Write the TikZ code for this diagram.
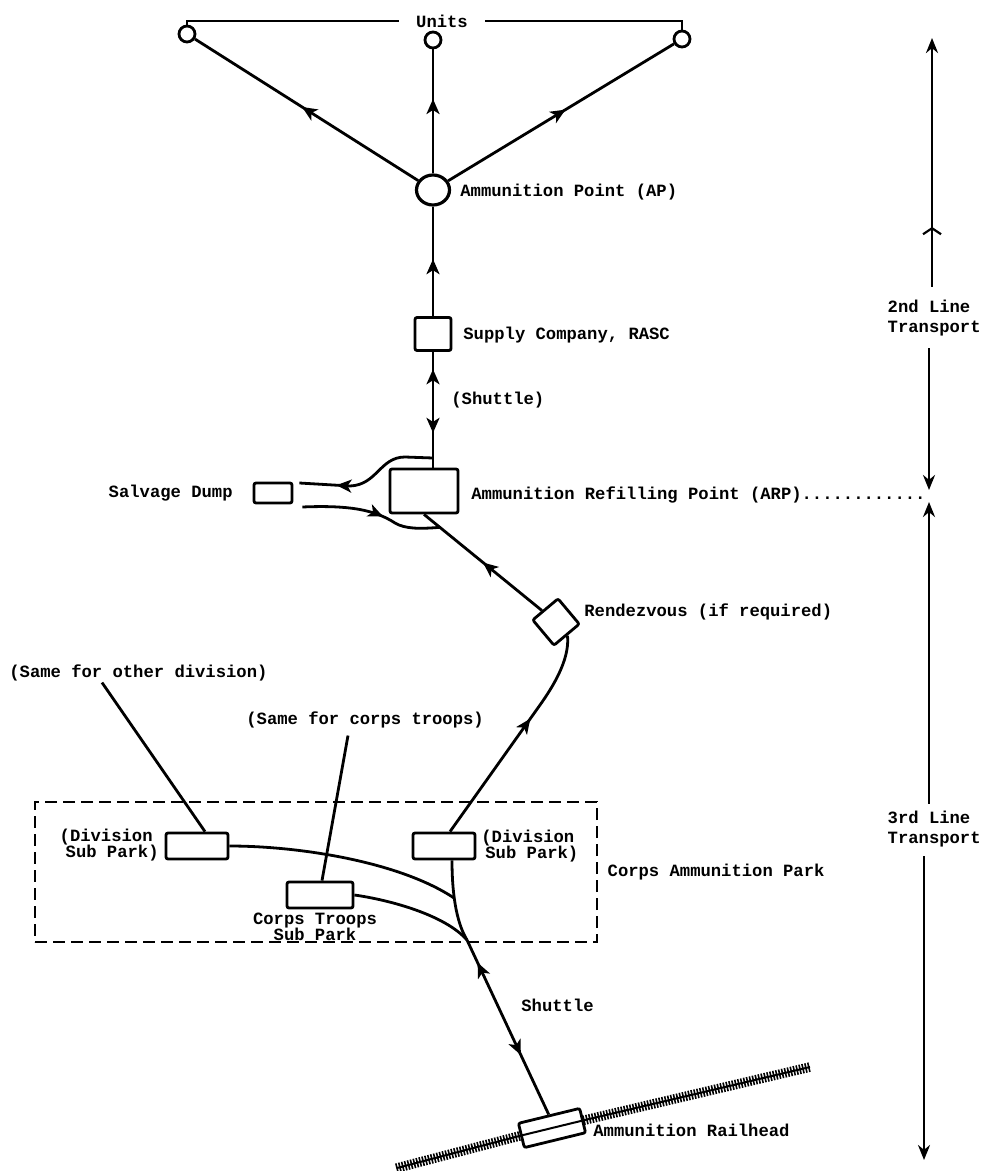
\documentclass[tikz,border=0pt]{standalone}
\usepackage{fontspec}
\newfontfamily\tw{Liberation Mono}
\usetikzlibrary{arrows.meta,decorations.markings,decorations.pathreplacing,calc,shapes.geometric}
\tikzset{
  lbl/.style={font=\tw\bfseries\fontsize{8.6}{8.2}\selectfont, inner sep=0pt},
  lbltwo/.style={font=\tw\bfseries\fontsize{8.6}{10}\selectfont, inner sep=0pt, align=left},
  box/.style={draw, rectangle, rounded corners=1pt, inner sep=0pt, fill=white},
  unit/.style={draw, circle, minimum size=8pt, inner sep=0pt, fill=white},
  tipx/.tip={Stealth[length=7.5pt,width=6.5pt,inset=2pt]},
  midarr/.style={postaction={decorate}, decoration={markings, mark=at position #1 with {\arrow{tipx}}}},
  shut/.style 2 args={postaction={decorate}, decoration={markings,
      mark=at position #1 with {\arrowreversed{tipx}},
      mark=at position #2 with {\arrow{tipx}}}},
  chev/.style={postaction={decorate}, decoration={markings, mark=at position #1 with {\arrow{Straight Barb[length=3pt,width=9pt,line width=1.1pt]}}}},
  dbox/.style={draw, dash pattern=on 6pt off 3pt, line width=1.3pt, minimum width=281pt, minimum height=70pt, inner sep=0pt},
  rail/.style={line width=1pt, postaction={draw, decorate, line width=0.8pt, decoration={ticks, segment length=1.5pt, amplitude=2.4pt}}},
  endtip/.style={-{Stealth[length=7.5pt,width=6pt]}}
}
\begin{document}
\begin{tikzpicture}[x=0.5pt, y=-0.5pt, line width=1.4pt]
\useasboundingbox (0,0) rectangle (983,1171);

% Units
\node[lbl, inner xsep=8pt] (units) at (442,21) {Units};
\node[unit] (u1) at (187,34) {};
\node[unit] (u2) at (433,40) {};
\node[unit] (u3) at (682,39) {};
\draw (u1.north) |- (units.west);
\draw (units.east) -| (u3.north);

% Ammunition point
\node[draw, ellipse, minimum width=16.5pt, minimum height=15pt, inner sep=0pt, line width=1.6pt] (ap) at (433,190) {};
\node[lbl, anchor=west] (aplbl) at (459,192) {Ammunition Point (AP)};
\draw[midarr=0.52] (ap) -- (u1);
\draw[midarr=0.6] (ap) -- (u2);
\draw[midarr=0.52] (ap) -- (u3);

% Supply company
\node[box, minimum width=18pt, minimum height=16.5pt] (sup) at (433,334) {};
\node[lbl, anchor=west] (suplbl) at (462,335) {Supply Company, RASC};
\draw[midarr=0.52] (sup) -- (ap);

% ARP
\node[box, minimum width=34pt, minimum height=22pt] (arp) at (424,491) {};
\node[lbl, anchor=west] (arplbl) at (470,495) {Ammunition Refilling Point (ARP)............};
\coordinate (arpin) at (arp.north -| sup.south);
\draw[shut={0.15}{0.7}] (sup.south) -- (arpin);
\node[lbl, anchor=west] (shlbl) at (450,400) {(Shuttle)};

% Salvage dump
\node[box, minimum width=19pt, minimum height=10pt] (salv) at (273,493) {};
\node[lbl, anchor=east] (salvlbl) at (234,493) {Salvage Dump};
\coordinate (j1) at (433,458);
\draw[midarr=0.74] (j1) -- (405,457) .. controls (380,457) and (377,485) .. (350,486) -- ($(salv.east)+(6,-10)$);

% Rendezvous
\node[box, rotate=40, minimum width=16.5pt, minimum height=16.5pt] (rdv) at (556,622) {};
\node[lbl, anchor=west] (rdvlbl) at (583,612) {Rendezvous (if required)};
\draw[midarr=0.5] (rdv) -- (arp.south);
\coordinate (rj) at ($(arp.south)!0.12!(rdv)$);
\draw[midarr=0.58] ($(salv.east)+(9,14)$) .. controls (350,505) and (375,510) .. (395,523) .. controls (405,529) and (420,529) .. (rj);

% Corps ammunition park
\node[dbox] (cap) at (316,872) {};
\node[lbl, anchor=west] (caplbl) at ([xshift=4pt]cap.east) {Corps Ammunition Park};

\node[box, minimum width=31pt, minimum height=13pt] (ldiv) at (197,846) {};
\node[box, minimum width=31pt, minimum height=13pt] (rdiv) at (444,846) {};
\node[box, minimum width=33pt, minimum height=13pt] (corps) at (320,895) {};

\node[lbl, anchor=east, align=left] (ldivlbl) at (160,845) {(Division\\\hspace*{3pt}Sub Park)};
\node[lbl, anchor=west, align=left] (rdivlbl) at (480,846) {(Division\\\hspace*{2pt}Sub Park)};
\node[lbl, align=center] (corpslbl) at (315,927) {Corps Troops\\Sub Park};

\node[lbl, anchor=west] (odivlbl) at (8,673) {(Same for other division)};
\node[lbl, anchor=west] (ctlbl) at (245,720) {(Same for corps troops)};
\draw ([xshift=47pt]odivlbl.south west) -- ([xshift=4pt]ldiv.north);
\draw ([xshift=51.5pt,yshift=-3pt]ctlbl.south west) -- ([xshift=1pt]corps.north);

\draw[midarr=0.6] ([xshift=3pt]rdiv.north) -- (540,705) .. controls (552,688) and (570,660) .. (rdv.south);

\coordinate (m1) at (454,898);
\coordinate (m2) at (467,940);
\draw ([xshift=4pt]rdiv.south) .. controls (452,900) and (458,925) .. (m2);
\draw (ldiv.east) .. controls (300,846) and (400,862) .. (m1);
\draw (corps.east) .. controls (390,900) and (445,915) .. (m2);

% Railhead
\node[box, minimum width=31.5pt, minimum height=12.5pt, rotate=13.7] (rh) at (552,1128) {};
\coordinate (ra) at (397,1168);
\coordinate (rb) at (810,1067);
\draw[rail] (ra) -- (rh.west);
\draw[rail] (rh.east) -- (rb);
\draw[line width=1pt] (rh.west) -- (rh.east);
\node[lbl, anchor=west] (rhlbl) at (592,1130) {Ammunition Railhead};
\draw[shut={0.13}{0.66}] (m2) -- (rh.north);
\node[lbl, anchor=west] (shut2) at (520,1005) {Shuttle};

% Right side transport lines
\node[lbltwo, anchor=east] (l2) at (982,318) {2nd Line\\Transport};
\node[lbltwo, anchor=east] (l3) at (982,829) {3rd Line\\Transport};
\coordinate (t2a) at (932,38);
\coordinate (t2b) at (929,490);
\coordinate (t3a) at (929,502);
\coordinate (t3b) at (924,1160);
\draw[endtip, chev=0.24] ([yshift=6pt]l2.north -| t2a) -- (t2a);
\draw[endtip] ([yshift=-5.5pt]l2.south -| t2b) -- (t2b);
\draw[endtip] ([yshift=3pt]l3.north -| t3a) -- (t3a);
\draw[endtip] ([yshift=-4pt]l3.south -| t3b) -- (t3b);
\end{tikzpicture}
\end{document}
